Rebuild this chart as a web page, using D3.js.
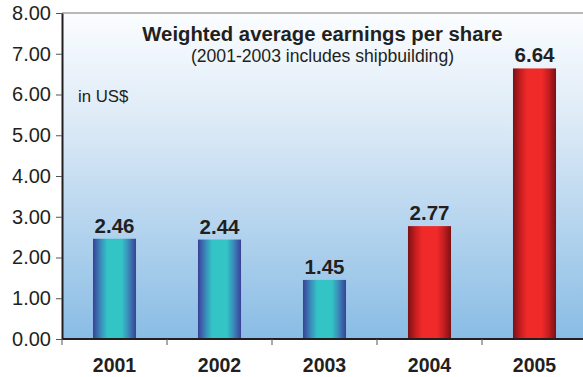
<!DOCTYPE html>
<html>
<head>
<meta charset="utf-8">
<script src="https://cdn.jsdelivr.net/npm/d3@7"></script>
<style>
  body { margin: 0; background: #fff; }
  svg { display: block; font-family: "Liberation Sans", Arial, sans-serif; }
</style>
</head>
<body>
<div id="chart"></div>
<script>
// chart data
var years  = ['2001', '2002', '2003', '2004', '2005'];
var eps    = [2.46, 2.44, 1.45, 2.77, 6.64];
var groups = ['ship', 'ship', 'ship', 'core', 'core'];   // 2001-2003 include shipbuilding
var y_ticks = [0, 1, 2, 3, 4, 5, 6, 7, 8];

var title    = 'Weighted average earnings per share';
var subtitle = '(2001-2003 includes shipbuilding)';
var unit     = 'in US$';

var data = years.map(function(y, i) {
    return {year: y, value: eps[i], group: groups[i]};
});

// chart params
var width  = 583;
var height = 377;
var left   = 62;
var right  = 587;
var top_y  = 13;
var bottom = 339;

var svg = d3.select('#chart')
    .append('svg')
    .attr('width', width)
    .attr('height', height);

var defs = svg.append('defs');

// plot background: white at the top to light blue at the bottom
var bg = defs.append('linearGradient')
    .attr('id', 'bg-grad')
    .attr('x1', 0).attr('y1', 0).attr('x2', 0).attr('y2', 1);
bg.append('stop').attr('offset', '0%').attr('stop-color', '#fbfdff');
bg.append('stop').attr('offset', '35%').attr('stop-color', '#dbe9f6');
bg.append('stop').attr('offset', '100%').attr('stop-color', '#89bce5');

// cylinder-like bar gradients
function barGradient(id, edge, mid, center) {
    var g = defs.append('linearGradient')
        .attr('id', id)
        .attr('x1', 0).attr('y1', 0).attr('x2', 1).attr('y2', 0);
    g.append('stop').attr('offset', '0%').attr('stop-color', edge);
    g.append('stop').attr('offset', '18%').attr('stop-color', mid);
    g.append('stop').attr('offset', '33%').attr('stop-color', center);
    g.append('stop').attr('offset', '67%').attr('stop-color', center);
    g.append('stop').attr('offset', '82%').attr('stop-color', mid);
    g.append('stop').attr('offset', '100%').attr('stop-color', edge);
}
barGradient('grad-ship', '#3b3f98', '#3a8cba', '#33c4c6');
barGradient('grad-core', '#7a1114', '#c81e21', '#f02a29');

// scales
var x_scale = d3.scaleBand()
    .domain(years)
    .range([left, right])
    .paddingInner(0.59)
    .paddingOuter(0.295);

var y_scale = d3.scaleLinear()
    .domain([0, 8])
    .range([bottom, top_y]);

// background + top border
svg.append('rect')
    .attr('x', left)
    .attr('y', top_y)
    .attr('width', width - left)
    .attr('height', bottom - top_y)
    .attr('fill', 'url(#bg-grad)');

svg.append('line')
    .attr('x1', left).attr('x2', width)
    .attr('y1', top_y).attr('y2', top_y)
    .attr('stroke', '#777')
    .attr('stroke-width', 1.2);

// bars
svg.selectAll('rect.bar')
    .data(data)
    .enter()
    .append('rect')
    .attr('class', 'bar')
    .attr('x', function(d) { return x_scale(d.year); })
    .attr('y', function(d) { return y_scale(d.value); })
    .attr('width', x_scale.bandwidth())
    .attr('height', function(d) { return y_scale(0) - y_scale(d.value); })
    .attr('fill', function(d) { return 'url(#grad-' + d.group + ')'; });

// value labels
svg.selectAll('text.value')
    .data(data)
    .enter()
    .append('text')
    .attr('class', 'value')
    .attr('x', function(d) { return x_scale(d.year) + x_scale.bandwidth() / 2; })
    .attr('y', function(d) { return y_scale(d.value) - 6; })
    .attr('text-anchor', 'middle')
    .attr('font-size', '20.5px')
    .attr('font-weight', 'bold')
    .attr('fill', '#231f20')
    .text(function(d) { return d.value.toFixed(2); });

// axes
var y_axis = d3.axisLeft(y_scale)
    .tickValues(y_ticks)
    .tickFormat(d3.format('.2f'))
    .tickSizeInner(6)
    .tickSizeOuter(0)
    .tickPadding(5);

var y_g = svg.append('g')
    .attr('transform', 'translate(' + left + ',0)')
    .call(y_axis);
y_g.select('.domain').attr('stroke', '#231f20').attr('stroke-width', 2);
y_g.selectAll('.tick line').attr('stroke', '#555');
y_g.selectAll('.tick text')
    .attr('font-size', '20px')
    .attr('font-family', '"Liberation Sans", Arial, sans-serif')
    .attr('fill', '#231f20');

// x axis: ticks sit on band edges
var x_g = svg.append('g')
    .attr('transform', 'translate(0,' + bottom + ')');
x_g.append('line')
    .attr('x1', left).attr('x2', width)
    .attr('stroke', '#231f20')
    .attr('stroke-width', 2);
x_g.selectAll('line.tick')
    .data(years)
    .enter()
    .append('line')
    .attr('class', 'tick')
    .attr('x1', function(d) { return x_scale(d) - x_scale.step() * x_scale.paddingInner() / 2; })
    .attr('x2', function(d) { return x_scale(d) - x_scale.step() * x_scale.paddingInner() / 2; })
    .attr('y1', 0).attr('y2', 6)
    .attr('stroke', '#555');
x_g.selectAll('text')
    .data(years)
    .enter()
    .append('text')
    .attr('x', function(d) { return x_scale(d) + x_scale.bandwidth() / 2; })
    .attr('y', 33)
    .attr('text-anchor', 'middle')
    .attr('font-size', '19.5px')
    .attr('font-weight', 'bold')
    .attr('fill', '#231f20')
    .text(function(d) { return d; });

// titles
var cx = (left + width) / 2;
svg.append('text')
    .attr('x', cx)
    .attr('y', 41)
    .attr('text-anchor', 'middle')
    .attr('font-size', '20.3px')
    .attr('font-weight', 'bold')
    .attr('fill', '#231f20')
    .text(title);

svg.append('text')
    .attr('x', cx)
    .attr('y', 62)
    .attr('text-anchor', 'middle')
    .attr('font-size', '17.6px')
    .attr('fill', '#231f20')
    .text(subtitle);

svg.append('text')
    .attr('x', 78)
    .attr('y', 102)
    .attr('font-size', '16.8px')
    .attr('fill', '#231f20')
    .text(unit);
</script>
</body>
</html>
